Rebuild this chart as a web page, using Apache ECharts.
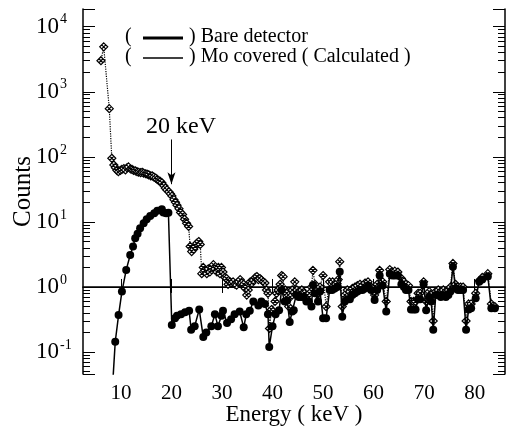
<!DOCTYPE html>
<html><head><meta charset="utf-8">
<script src="https://cdn.jsdelivr.net/npm/echarts@6/dist/echarts.min.js"></script>
<style>html,body{margin:0;padding:0;background:#fff}#c{width:515px;height:431px}</style>
</head><body><div id="c"></div>
<script>
// ---- data ----
const bareEnergy = [6.05,6.6,7.7,8.2,8.6,8.9,9.2,9.5,9.9,10.2,10.6,10.9,11.2,11.5,11.9,12.2,12.5,12.9,13.2,13.5,13.9,14.2,14.5,14.9,15.2,15.5,15.9,16.2,16.5,16.9,17.2,17.5,17.8,18.1,18.5,18.8,19.1,19.5,19.8,20.1,20.5,20.8,21.1,21.5,21.8,22.2,22.6,23.0,23.4,23.7,24.0,24.4,24.7,25.0,25.4,25.7,26.0,26.3,26.6,27.0,27.3,27.6,28.0,28.3,28.6,29.0,29.3,29.6,29.9,30.2,30.6,30.9,31.2,31.6,31.9,32.2,32.6,32.9,33.3,33.6,33.9,34.3,34.6,34.9,35.2,35.6,35.9,36.2,36.6,36.9,37.2,37.5,37.8,38.2,38.5,38.8,39.1,39.4,39.8,40.1,40.5,40.8,41.1,41.5,41.8,42.1,42.5,42.8,43.2,43.5,43.9,44.4,44.8,45.3,45.8,46.3,46.8,47.3,47.7,48.0,48.4,48.9,49.4,50.0,50.6,51.3,51.9,52.5,53.0,53.3,53.8,54.3,54.8,55.3,55.8,56.3,56.8,57.3,57.8,58.3,58.9,59.5,60.2,60.7,61.2,61.8,62.5,63.2,63.7,64.2,64.8,65.5,66.0,66.4,66.9,67.4,67.9,68.3,68.8,69.2,69.9,70.4,71.0,71.4,71.8,72.3,72.8,73.3,73.8,74.3,74.8,75.2,75.7,76.2,76.7,77.2,77.7,78.3,78.8,79.3,80.2,80.9,81.5,82.6,83.3,84.0];
const bareCounts = [3000,4900,550,95,75,68,62,59,62,64,66,63,68,70,65,64,62,61,59,58,57,58,56,55,54,53,51,51,49,47,45,43,42,40,36,33,31,29,27,25,22,20,18,16,14,13,11,9.5,8.5,4.2,3.5,3.8,4.2,4.7,5.0,4.5,1.6,2.0,1.8,1.6,1.9,1.7,2.0,2.2,1.9,1.7,2.0,1.6,2.0,1.7,1.4,1.35,1.1,1.2,1.15,1.2,1.1,1.07,1.2,1.3,1.15,1.1,0.95,0.75,0.9,1.2,1.15,1.28,1.4,1.45,1.3,1.35,1.28,1.2,1.15,0.9,0.8,0.23,0.45,0.42,0.6,0.8,0.9,1.1,1.5,1.44,0.9,0.8,0.5,0.7,0.9,1.2,0.9,0.85,0.9,0.8,0.75,0.8,1.0,1.8,1.1,0.8,1.0,1.5,0.5,1.2,1.2,1.1,1.3,2.45,0.5,0.75,0.9,0.85,0.95,1.0,1.05,1.1,1.05,1.15,1.2,1.0,0.75,1.1,1.8,1.2,0.6,1.85,1.7,1.75,1.7,1.35,1.2,1.1,1.05,0.6,0.6,0.6,0.8,0.8,1.2,0.6,0.85,0.75,0.3,0.85,0.9,0.85,0.9,0.85,0.9,1.0,2.3,1.1,1.0,1.0,1.0,0.3,0.55,0.55,0.8,1.25,1.4,1.6,0.55,0.5];

const moEnergy = [8.4,8.88,9.54,10.2,11.05,11.84,12.4,12.83,13.3,13.8,14.5,15.1,15.8,16.6,17.2,18.1,18.4,18.95,19.4,20.07,20.7,21.1,21.9,22.7,23.5,23.9,24.6,25.5,26.3,26.9,27.9,28.6,29.2,29.9,30.2,31.0,31.8,32.5,33.5,34.3,34.8,35.5,36.2,37.2,37.8,38.5,39.1,39.35,40.0,40.6,41.3,41.8,42.4,42.9,43.4,43.9,44.2,44.7,45.2,45.7,46.2,46.7,47.2,47.7,48.0,48.4,49.0,49.4,50.0,50.6,51.3,51.8,52.3,52.8,53.3,53.8,54.3,54.8,55.3,55.8,56.3,56.8,57.3,57.8,58.3,58.9,59.5,60.2,60.7,61.2,61.8,62.5,63.2,63.7,64.2,64.8,65.5,66.0,66.4,66.9,67.4,67.9,68.3,68.8,69.2,69.9,70.4,71.0,71.4,71.8,72.3,72.8,73.3,73.8,74.3,74.8,75.2,75.7,76.2,76.7,77.2,77.7,78.3,78.8,79.3,80.2,80.9,81.5,82.6,83.3,84.0];
const moCounts = [0.035,0.144,0.37,0.85,1.83,3.1,4.2,5.6,6.6,8.0,9.5,11,12.3,13.6,14.9,15.7,14,13.6,13.8,0.26,0.33,0.36,0.38,0.41,0.43,0.22,0.25,0.45,0.17,0.2,0.25,0.38,0.25,0.36,0.43,0.28,0.32,0.38,0.42,0.24,0.38,0.43,0.6,0.52,0.6,0.55,0.38,0.12,0.25,0.38,0.44,0.9,0.6,0.62,0.29,0.42,0.44,0.75,0.7,0.7,0.7,0.6,0.6,0.5,1.07,0.8,0.6,0.85,0.33,0.33,0.9,0.9,0.95,1.0,1.72,0.35,0.6,0.65,0.65,0.75,0.8,0.85,0.9,0.9,0.95,1.05,0.9,0.63,0.9,1.5,1.05,0.42,1.6,1.5,1.5,1.5,1.1,1.0,0.9,0.9,0.45,0.45,0.45,0.65,0.65,1.1,0.44,0.7,0.6,0.22,0.75,0.75,0.7,0.75,0.7,0.75,0.85,2.05,0.95,0.9,0.9,0.9,0.22,0.45,0.47,0.67,1.2,1.3,1.45,0.47,0.47];

const xTickValues = [10,20,30,40,50,60,70,80];
const seriesNames = ['Bare detector', 'Mo covered ( Calculated )'];

// ---- axis ranges ----
const X_MIN = 2.5, X_MAX = 86;
const Y_MIN = 0.046, Y_MAX = 18700;
const FONT = 'Liberation Serif';

// minor log tick positions (axis furniture): 2..9 x 10^k, expressed as exponents
const minorTickExp = [];
for (let k = -2; k <= 4; k++) {
  for (let m = 2; m <= 9; m++) {
    const v = m * Math.pow(10, k);
    if (v > Y_MIN && v < Y_MAX) minorTickExp.push(Math.log10(v));
  }
}
const E_MIN = Math.log10(Y_MIN), E_MAX = Math.log10(Y_MAX);

const zip = (a, b) => a.map((x, i) => [x, b[i]]);

const chart = echarts.init(document.getElementById('c'), null, {renderer: 'canvas'});

const yLabelFmt = function (v) {
  const l = Math.log10(v);
  const e = Math.round(l);
  if (Math.abs(l - e) > 1e-6) return '';
  return '{b|10}{s|' + e + '}';
};

// hidden linear axes over the same exponent range, only used to draw the minor log ticks
const minorAxis = (pos) => ({
  type: 'value', min: E_MIN, max: E_MAX, position: pos, offset: 0,
  axisLine: {show: false},
  axisTick: {show: true, inside: true, length: 7, customValues: minorTickExp, lineStyle: {color: '#000', width: 1}},
  axisLabel: {show: false},
  splitLine: {show: false}
});

chart.setOption({
  animation: false,
  backgroundColor: '#fff',
  grid: {left: 83, right: 10, top: 9, bottom: 57, containLabel: false, outerBoundsMode: 'none'},
  xAxis: [{
    type: 'value', min: X_MIN, max: X_MAX, position: 'bottom',
    name: 'Energy ( keV )', nameLocation: 'middle', nameGap: 29, nameMoveOverlap: false,
    nameTextStyle: {fontFamily: FONT, fontSize: 23, color: '#000'},
    axisLine: {show: true, lineStyle: {color: '#000', width: 1.5}},
    axisTick: {show: true, inside: true, length: 8, customValues: xTickValues, lineStyle: {color: '#000', width: 1}},
    axisLabel: {customValues: xTickValues, fontFamily: FONT, fontSize: 21, color: '#000', margin: 9},
    splitLine: {show: false}
  }, {
    type: 'value', min: X_MIN, max: X_MAX, position: 'top',
    axisLine: {show: true, lineStyle: {color: '#000', width: 1}},
    axisTick: {show: true, inside: true, length: 6, customValues: xTickValues, lineStyle: {color: '#000', width: 1}},
    axisLabel: {show: false},
    splitLine: {show: false}
  }],
  yAxis: [{
    type: 'log', min: Y_MIN, max: Y_MAX, position: 'left',
    name: 'Counts', nameLocation: 'middle', nameGap: 47, nameRotate: 90, nameMoveOverlap: false,
    nameTextStyle: {fontFamily: FONT, fontSize: 25, color: '#000'},
    axisLine: {show: true, lineStyle: {color: '#000', width: 1.5}},
    axisTick: {show: true, inside: true, length: 12, lineStyle: {color: '#000', width: 1}},
    axisLabel: {
      formatter: yLabelFmt, align: 'left', margin: 47, color: '#000',
      rich: {
        b: {fontFamily: FONT, fontSize: 23, color: '#000'},
        s: {fontFamily: FONT, fontSize: 14, color: '#000', padding: [0, 0, 14, 1]}
      }
    },
    splitLine: {show: false}
  }, {
    type: 'log', min: Y_MIN, max: Y_MAX, position: 'right',
    axisLine: {show: true, lineStyle: {color: '#000', width: 1.5}},
    axisTick: {show: true, inside: true, length: 12, lineStyle: {color: '#000', width: 1}},
    axisLabel: {show: false},
    splitLine: {show: false}
  }, minorAxis('left'), minorAxis('right')],
  graphic: [
    {type: 'text', left: 125, top: 27, style: {text: '(', font: '20px "Liberation Serif"', fill: '#000'}},
    {type: 'line', shape: {x1: 143, y1: 38, x2: 183, y2: 38}, style: {stroke: '#000', lineWidth: 3}},
    {type: 'text', left: 189, top: 27, style: {text: ') ' + seriesNames[0], font: '20px "Liberation Serif"', fill: '#000'}},
    {type: 'text', left: 125, top: 47, style: {text: '(', font: '20px "Liberation Serif"', fill: '#000'}},
    {type: 'line', shape: {x1: 143, y1: 58, x2: 183, y2: 58}, style: {stroke: '#000', lineWidth: 1.5}},
    {type: 'text', left: 189, top: 47, style: {text: ') ' + seriesNames[1], font: '20px "Liberation Serif"', fill: '#000'}}
  ],
  series: [{
    name: seriesNames[0], type: 'line', xAxisIndex: 0, yAxisIndex: 0,
    data: zip(bareEnergy, bareCounts),
    showAllSymbol: true,
    symbol: 'path://M0,-10 L10,0 L0,10 L-10,0 Z M-5,-5 L5,5 M5,-5 L-5,5',
    symbolSize: 8,
    itemStyle: {color: '#fff', borderColor: '#000', borderWidth: 1.2},
    lineStyle: {color: '#000', width: 1.2, type: 'dotted'},
    clip: true, z: 2,
    markLine: {
      silent: true, symbol: ['none', 'arrow'], symbolSize: [6, 12],
      lineStyle: {color: '#000', width: 1, type: 'solid'},
      label: {show: false},
      data: [[{coord: [20, 185]}, {coord: [20, 38]}]]
    },
    markPoint: {
      silent: true, symbol: 'rect', symbolSize: 1, itemStyle: {color: 'rgba(0,0,0,0)'},
      label: {show: true, position: 'inside', formatter: '20 keV', fontFamily: FONT, fontSize: 24, color: '#000'},
      data: [{coord: [21.9, 290]}]
    }
  }, {
    name: seriesNames[1], type: 'line', xAxisIndex: 0, yAxisIndex: 0,
    data: zip(moEnergy, moCounts),
    showAllSymbol: true, symbol: 'circle', symbolSize: 8,
    itemStyle: {color: '#000'},
    lineStyle: {color: '#000', width: 1.5},
    clip: true, z: 3
  }]
});
</script></body></html>
